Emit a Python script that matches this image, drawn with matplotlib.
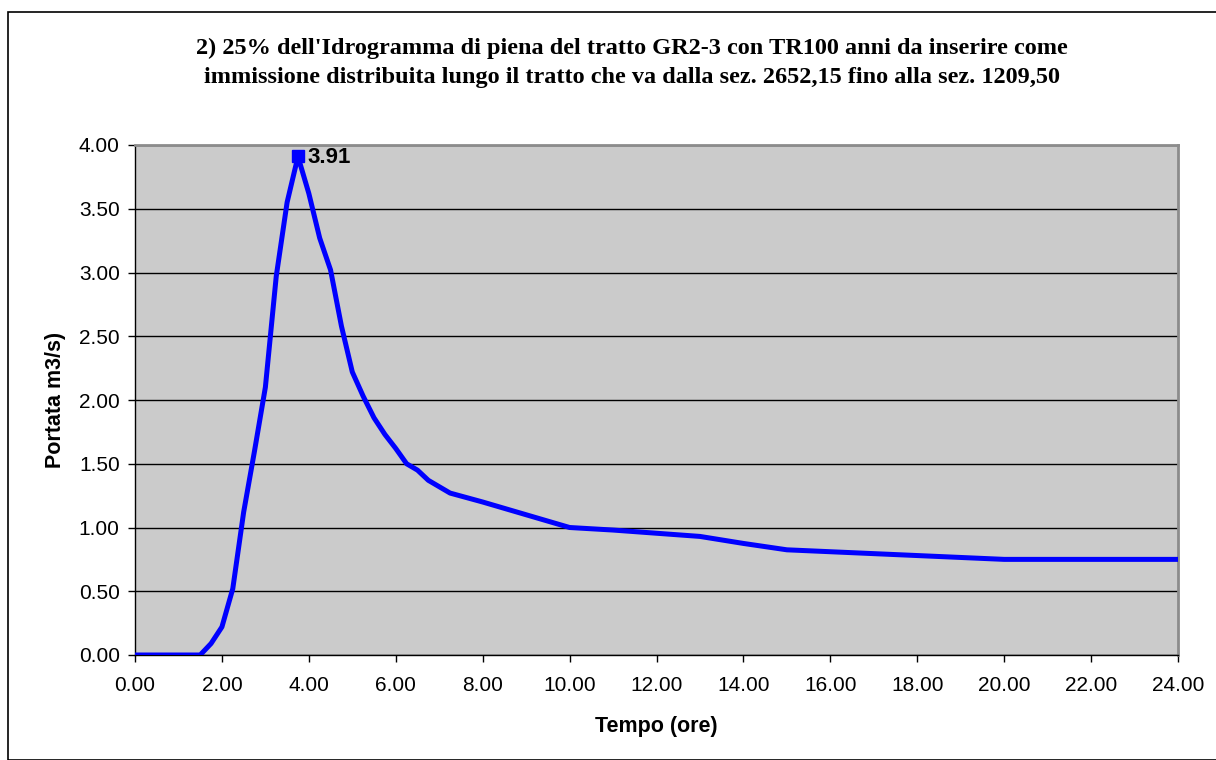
import matplotlib.pyplot as plt
from matplotlib.patches import Rectangle
from matplotlib.ticker import MultipleLocator, FormatStrFormatter

# Idrogramma di piena (25%) - tempo in ore, portata in m3/s
tempo_ore = [0.0, 1.5, 1.75, 2.0, 2.25, 2.5, 2.75, 3.0, 3.25, 3.5, 3.75,
             4.0, 4.25, 4.5, 4.75, 5.0, 5.25, 5.5, 5.75, 6.0, 6.25, 6.5,
             6.75, 7.0, 7.25, 8.0, 9.0, 10.0, 11.0, 12.0, 13.0, 14.0, 15.0,
             16.0, 17.0, 18.0, 19.0, 20.0, 21.0, 22.0, 23.0, 24.0]
portata = [0.0, 0.0, 0.09, 0.22, 0.52, 1.12, 1.60, 2.10, 2.97, 3.55, 3.91,
           3.62, 3.27, 3.02, 2.58, 2.22, 2.03, 1.86, 1.73, 1.62, 1.50, 1.45,
           1.37, 1.32, 1.27, 1.20, 1.10, 1.00, 0.98, 0.955, 0.93, 0.875, 0.825,
           0.81, 0.795, 0.78, 0.765, 0.75, 0.75, 0.75, 0.75, 0.75]
picco_t = 3.75
picco_q = 3.91

TITLE_LINES = ["2) 25% dell'Idrogramma di piena del tratto GR2-3 con TR100 anni da inserire come",
               "immissione distribuita lungo il tratto che va dalla sez. 2652,15 fino alla sez. 1209,50"]

W, H = 1216, 760
fig = plt.figure(figsize=(W / 100, H / 100), dpi=100)
fig.patch.set_facecolor("white")

# outer chart border
fig.add_artist(Rectangle((8 / W, 0), 1.0, 1 - 12 / H, transform=fig.transFigure,
                         fill=False, edgecolor="black", linewidth=1.2))

ax = fig.add_axes([135 / W, (H - 655) / H, (1178 - 135) / W, (655 - 145) / H])
ax.set_facecolor("#cbcbcb")
ax.plot(tempo_ore, portata, color="#0000ff", linewidth=3.6, solid_joinstyle="round", zorder=3)
ax.plot([picco_t], [picco_q], marker="s", markersize=8, color="#0000ff", zorder=4, clip_on=False)
ax.annotate(f"{picco_q:.2f}", (picco_t, picco_q), xytext=(7, -1), textcoords="offset points",
            ha="left", va="center", fontsize=16, fontweight="bold", family="Liberation Sans")

ax.set_xlim(0, 24)
ax.set_ylim(0, 4)
ax.xaxis.set_major_locator(MultipleLocator(2))
ax.yaxis.set_major_locator(MultipleLocator(0.5))
ax.xaxis.set_major_formatter(FormatStrFormatter("%.2f"))
ax.yaxis.set_major_formatter(FormatStrFormatter("%.2f"))
ax.grid(axis="y", color="black", linewidth=1.0)
ax.set_axisbelow(True)

for side in ("left", "bottom"):
    ax.spines[side].set_color("black")
    ax.spines[side].set_linewidth(1.0)
for side in ("top", "right"):
    ax.spines[side].set_color("#8c8c8c")
    ax.spines[side].set_linewidth(2.0)

ax.tick_params(axis="x", direction="out", length=5, width=1, pad=10, labelsize=15)
ax.tick_params(axis="y", direction="out", length=5, width=1, pad=6, labelsize=15)
for lab in ax.get_xticklabels() + ax.get_yticklabels():
    lab.set_family("Liberation Sans")

ax.set_xlabel("Tempo (ore)", fontsize=15.5, fontweight="bold", family="Liberation Sans", labelpad=15)
ax.set_ylabel("Portata m3/s)", fontsize=15.5, fontweight="bold", family="Liberation Sans", labelpad=9)

for y_px, line in zip([48, 77], TITLE_LINES):
    fig.text(632 / W, 1 - y_px / H, line, ha="center", va="center", fontsize=17.5,
             fontweight="bold", family="Liberation Serif")

fig.savefig("out.png", dpi=100)
